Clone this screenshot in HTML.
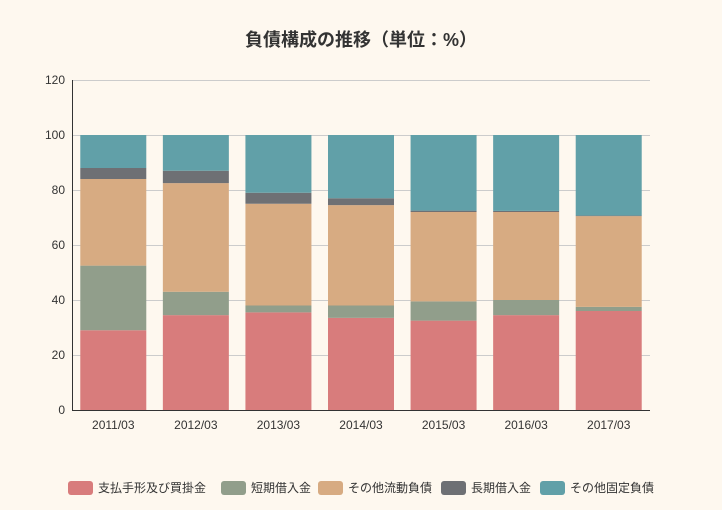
<!DOCTYPE html>
<html><head><meta charset="utf-8"><style>
html,body{margin:0;padding:0;background:#fef8ef;}
svg{display:block;font-family:"Liberation Sans","Noto Sans CJK JP",sans-serif;}
</style></head><body>
<svg width="722" height="510" viewBox="0 0 722 510">
<rect width="722" height="510" fill="#fef8ef"/>
<text x="361" y="46" text-anchor="middle" font-size="18" font-weight="bold" fill="#333">負債構成の推移（単位：%）</text>
<g stroke="#ccc" stroke-width="1">
<line x1="72" x2="650" y1="80.5" y2="80.5"/>
<line x1="72" x2="650" y1="135.5" y2="135.5"/>
<line x1="72" x2="650" y1="190.5" y2="190.5"/>
<line x1="72" x2="650" y1="245.5" y2="245.5"/>
<line x1="72" x2="650" y1="300.5" y2="300.5"/>
<line x1="72" x2="650" y1="355.5" y2="355.5"/>
</g>
<g font-size="12" fill="#333" text-anchor="end">
<text x="65" y="84">120</text><text x="65" y="139">100</text><text x="65" y="194">80</text>
<text x="65" y="249">60</text><text x="65" y="304">40</text><text x="65" y="359">20</text><text x="65" y="414">0</text>
</g>
<g id="bars"></g>
<line x1="72.5" x2="72.5" y1="80" y2="410" stroke="#333"/>
<line x1="72" x2="650" y1="410.5" y2="410.5" stroke="#333"/>
<g font-size="12" fill="#333" text-anchor="middle" id="xl"></g>
<g font-size="12" fill="#333">
<rect x="68" y="481" width="25" height="14" rx="3" fill="#d87c7c"/><text x="98" y="492">支払手形及び買掛金</text>
<rect x="221" y="481" width="25" height="14" rx="3" fill="#919e8b"/><text x="251" y="492">短期借入金</text>
<rect x="318" y="481" width="25" height="14" rx="3" fill="#d7ab82"/><text x="348" y="492">その他流動負債</text>
<rect x="441" y="481" width="25" height="14" rx="3" fill="#6e7074"/><text x="471" y="492">長期借入金</text>
<rect x="540" y="481" width="25" height="14" rx="3" fill="#61a0a8"/><text x="570" y="492">その他固定負債</text>
</g>
<script>
var d=[[29,52.5,84,88,100],[34.5,43,82.5,87,100],[35.5,38,75,79,100],[33.5,38,74.5,77,100],[32.5,39.5,72,72.5,100],[34.5,40,72,72.4,100],[36,37.5,70.5,70.7,100]];
var c=["#d87c7c","#919e8b","#d7ab82","#6e7074","#61a0a8"];
var lab=["2011/03","2012/03","2013/03","2014/03","2015/03","2016/03","2017/03"];
var ns="http://www.w3.org/2000/svg",g=document.getElementById("bars"),xl=document.getElementById("xl");
var w=578/7;
d.forEach(function(r,i){var cx=72+w*(i+0.5),prev=0;
r.forEach(function(v,j){var e=document.createElementNS(ns,"rect");var y1=410-v*2.75,y0=410-prev*2.75;
e.setAttribute("x",cx-33);e.setAttribute("width",66);e.setAttribute("y",y1);e.setAttribute("height",y0-y1);e.setAttribute("fill",c[j]);g.appendChild(e);prev=v;});
var t=document.createElementNS(ns,"text");t.setAttribute("x",cx);t.setAttribute("y",429);t.textContent=lab[i];xl.appendChild(t);
var tk=document.createElementNS(ns,"line");});
</script>
</svg>
</body></html>
